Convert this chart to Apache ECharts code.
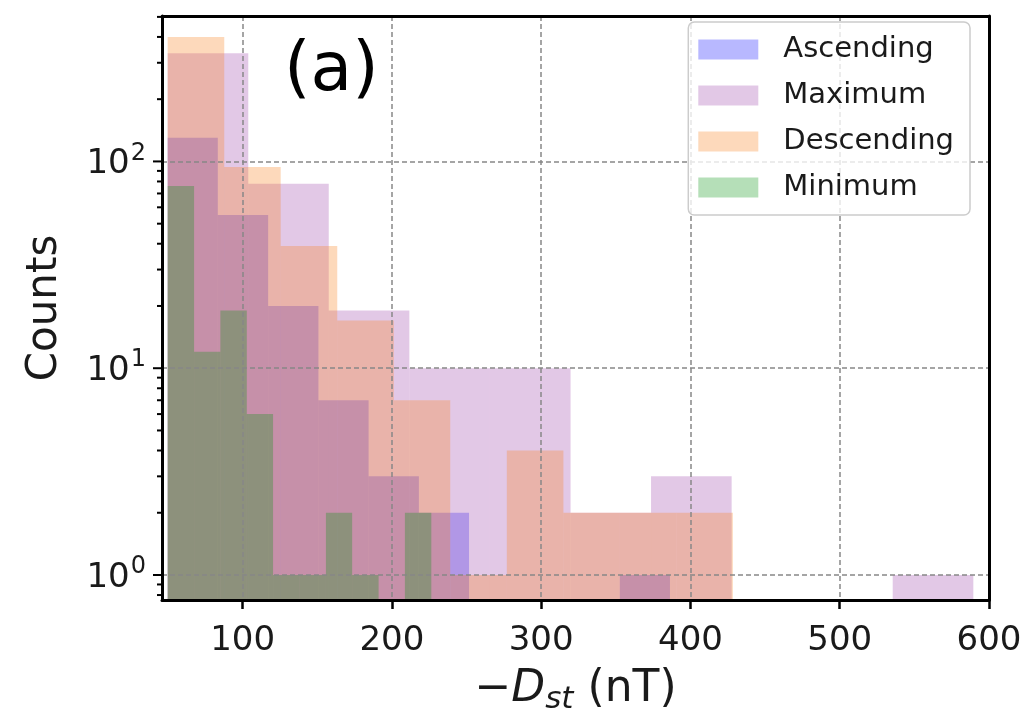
<!DOCTYPE html>
<html>
<head>
<meta charset="utf-8">
<script src="https://cdn.jsdelivr.net/npm/echarts@6/dist/echarts.min.js"></script>
<style>
  html, body { margin: 0; padding: 0; background: #fff; }
  #chart { width: 1027px; height: 711px; }
</style>
</head>
<body>
<div id="chart"></div>
<script>
// bin edges (nT) and counts for each phase
const ascEdges  = [49.8, 83.4, 117.1, 150.8, 184.4, 218.1, 251.7, 285.4, 319.0, 352.7, 386.3];
const ascCounts = [130, 55, 20, 7, 3, 2, 0, 0, 0, 1];

const maxEdges  = [49.8, 103.8, 157.7, 211.7, 265.7, 319.7, 373.6, 427.6, 481.6, 535.5, 589.5];
const maxCounts = [334, 78, 19, 10, 10, 2, 3, 0, 0, 1];

const descEdges  = [49.8, 87.7, 125.5, 163.4, 201.3, 239.1, 277.0, 314.9, 352.7, 390.6, 428.4];
const descCounts = [400, 94, 39, 17, 7, 1, 4, 2, 2, 2];

const minEdges  = [49.8, 67.5, 85.1, 102.8, 120.4, 138.1, 155.8, 173.4, 191.1, 208.7, 226.4];
const minCounts = [76, 12, 19, 6, 1, 1, 2, 1, 0, 2];

const xTicks = [100, 200, 300, 400, 500, 600];
const yMajorTicks = [1, 10, 100];
const yMinorTicks = [0.8, 0.9, 2, 3, 4, 5, 6, 7, 8, 9, 20, 30, 40, 50, 60, 70, 80, 90, 200, 300, 400, 500];

const X_MIN = 46;
const X_MAX = 600;
const Y_MIN = 0.757;
const Y_MAX = 505;

const FONT = 'DejaVu Sans';

function toBins(edges, counts) {
    return counts.map((c, i) => [edges[i], edges[i + 1], c]);
}

function renderHist(params, api) {
    const c = api.value(2);
    if (!c) return;
    const p0 = api.coord([api.value(0), c]);
    const p1 = api.coord([api.value(1), Y_MIN]);
    return {
        type: 'rect',
        shape: { x: p0[0], y: p0[1], width: p1[0] - p0[0], height: p1[1] - p0[1] },
        style: api.style()
    };
}

function renderTick(params, api) {
    const p = api.coord([X_MIN, api.value(1)]);
    const len = api.value(2);
    return {
        type: 'line',
        shape: { x1: p[0] - len, y1: p[1], x2: p[0], y2: p[1] },
        style: { stroke: '#000', lineWidth: 2 }
    };
}

function histSeries(name, color, edges, counts) {
    return {
        name: name,
        type: 'custom',
        renderItem: renderHist,
        itemStyle: { color: color },
        encode: { x: [0, 1], y: 2 },
        data: toBins(edges, counts),
        z: 2
    };
}

const chart = echarts.init(document.getElementById('chart'), null, { renderer: 'canvas' });

const tickData = yMajorTicks.map(v => [X_MIN, v, 9]).concat(yMinorTicks.map(v => [X_MIN, v, 5]));

const frameAxis = {
    z: 4,
    axisLine: { show: true, lineStyle: { color: '#000', width: 3 } },
    axisTick: { show: false },
    axisLabel: { show: false },
    splitLine: { show: false }
};

chart.setOption({
    animation: false,
    textStyle: { fontFamily: FONT },
    title: {
        text: '(a)',
        left: 279,
        top: 33,
        textStyle: { fontFamily: FONT, fontSize: 68, fontWeight: 'normal', color: '#000' }
    },
    grid: {
        left: 162, right: 38, top: 16, bottom: 111,
        outerBoundsMode: 'none',
        containLabel: false
    },
    legend: {
        orient: 'vertical',
        right: 57,
        top: 22,
        padding: [13, 16, 13, 10],
        itemWidth: 60,
        itemHeight: 20,
        itemGap: 17,
        icon: 'rect',
        borderColor: '#cccccc',
        borderWidth: 1.5,
        borderRadius: 6,
        backgroundColor: 'rgba(255,255,255,0.8)',
        data: ['Ascending', 'Maximum', 'Descending', 'Minimum'],
        textStyle: { fontFamily: FONT, fontSize: 29, color: '#1a1a1a', padding: [0, 0, 0, 20] },
        z: 6
    },
    xAxis: [{
        type: 'value',
        min: X_MIN,
        max: X_MAX,
        z: 3,
        name: '{n|\u2212}{i|D}{s|st}{n| (nT)}',
        nameLocation: 'middle',
        nameGap: 62,
        nameTextStyle: {
            rich: {
                n: { fontFamily: FONT, fontSize: 44, color: '#1a1a1a', lineHeight: 56 },
                i: { fontFamily: FONT, fontSize: 44, fontStyle: 'italic', color: '#1a1a1a', lineHeight: 56 },
                s: { fontFamily: FONT, fontSize: 31, fontStyle: 'italic', color: '#1a1a1a', lineHeight: 56, padding: [20, 0, 0, 0] }
            }
        },
        axisLine: { lineStyle: { color: '#000', width: 3 } },
        axisTick: { customValues: xTicks, length: 9, lineStyle: { color: '#000', width: 2.5 } },
        axisLabel: { customValues: xTicks, fontFamily: FONT, fontSize: 34, color: '#1a1a1a', margin: 24 },
        splitLine: { show: true, lineStyle: { color: '#888', width: 1.5, type: [5, 3] } }
    }, Object.assign({ type: 'value', position: 'top', min: X_MIN, max: X_MAX }, frameAxis)],
    yAxis: [{
        type: 'log',
        logBase: 10,
        min: Y_MIN,
        max: Y_MAX,
        z: 3,
        name: 'Counts',
        nameLocation: 'middle',
        nameGap: 96,
        nameTextStyle: { fontFamily: FONT, fontSize: 42, color: '#1a1a1a' },
        axisLine: { lineStyle: { color: '#000', width: 3 } },
        axisTick: { show: false },
        axisLabel: {
            color: '#1a1a1a', margin: 16,
            showMinLabel: false, showMaxLabel: false,
            formatter: v => {
                const lg = Math.log10(v);
                const e = Math.round(lg);
                return Math.abs(lg - e) < 1e-6 && yMajorTicks.indexOf(Math.pow(10, e)) >= 0 ? '{b|10}{p|' + e + '}' : '';
            },
            rich: {
                b: { fontFamily: FONT, fontSize: 34, color: '#1a1a1a', lineHeight: 40, verticalAlign: 'bottom' },
                p: { fontFamily: FONT, fontSize: 24, color: '#1a1a1a', lineHeight: 40, verticalAlign: 'top', padding: [0, 0, 18, 1] }
            }
        },
        splitLine: { show: true, lineStyle: { color: '#888', width: 1.5, type: [5, 3] } }
    }, Object.assign({ type: 'log', logBase: 10, position: 'right', min: Y_MIN, max: Y_MAX }, frameAxis)],
    series: [
        histSeries('Ascending', 'rgba(0,0,255,0.28)', ascEdges, ascCounts),
        histSeries('Maximum', 'rgba(158,72,172,0.3)', maxEdges, maxCounts),
        histSeries('Descending', 'rgba(250,130,30,0.3)', descEdges, descCounts),
        histSeries('Minimum', 'rgba(10,150,20,0.3)', minEdges, minCounts),
        {
            name: 'yTicks',
            type: 'custom',
            renderItem: renderTick,
            clip: false,
            silent: true,
            encode: { x: 0, y: 1 },
            data: tickData,
            z: 5
        }
    ]
});

window.addEventListener('resize', () => chart.resize());
</script>
</body>
</html>
